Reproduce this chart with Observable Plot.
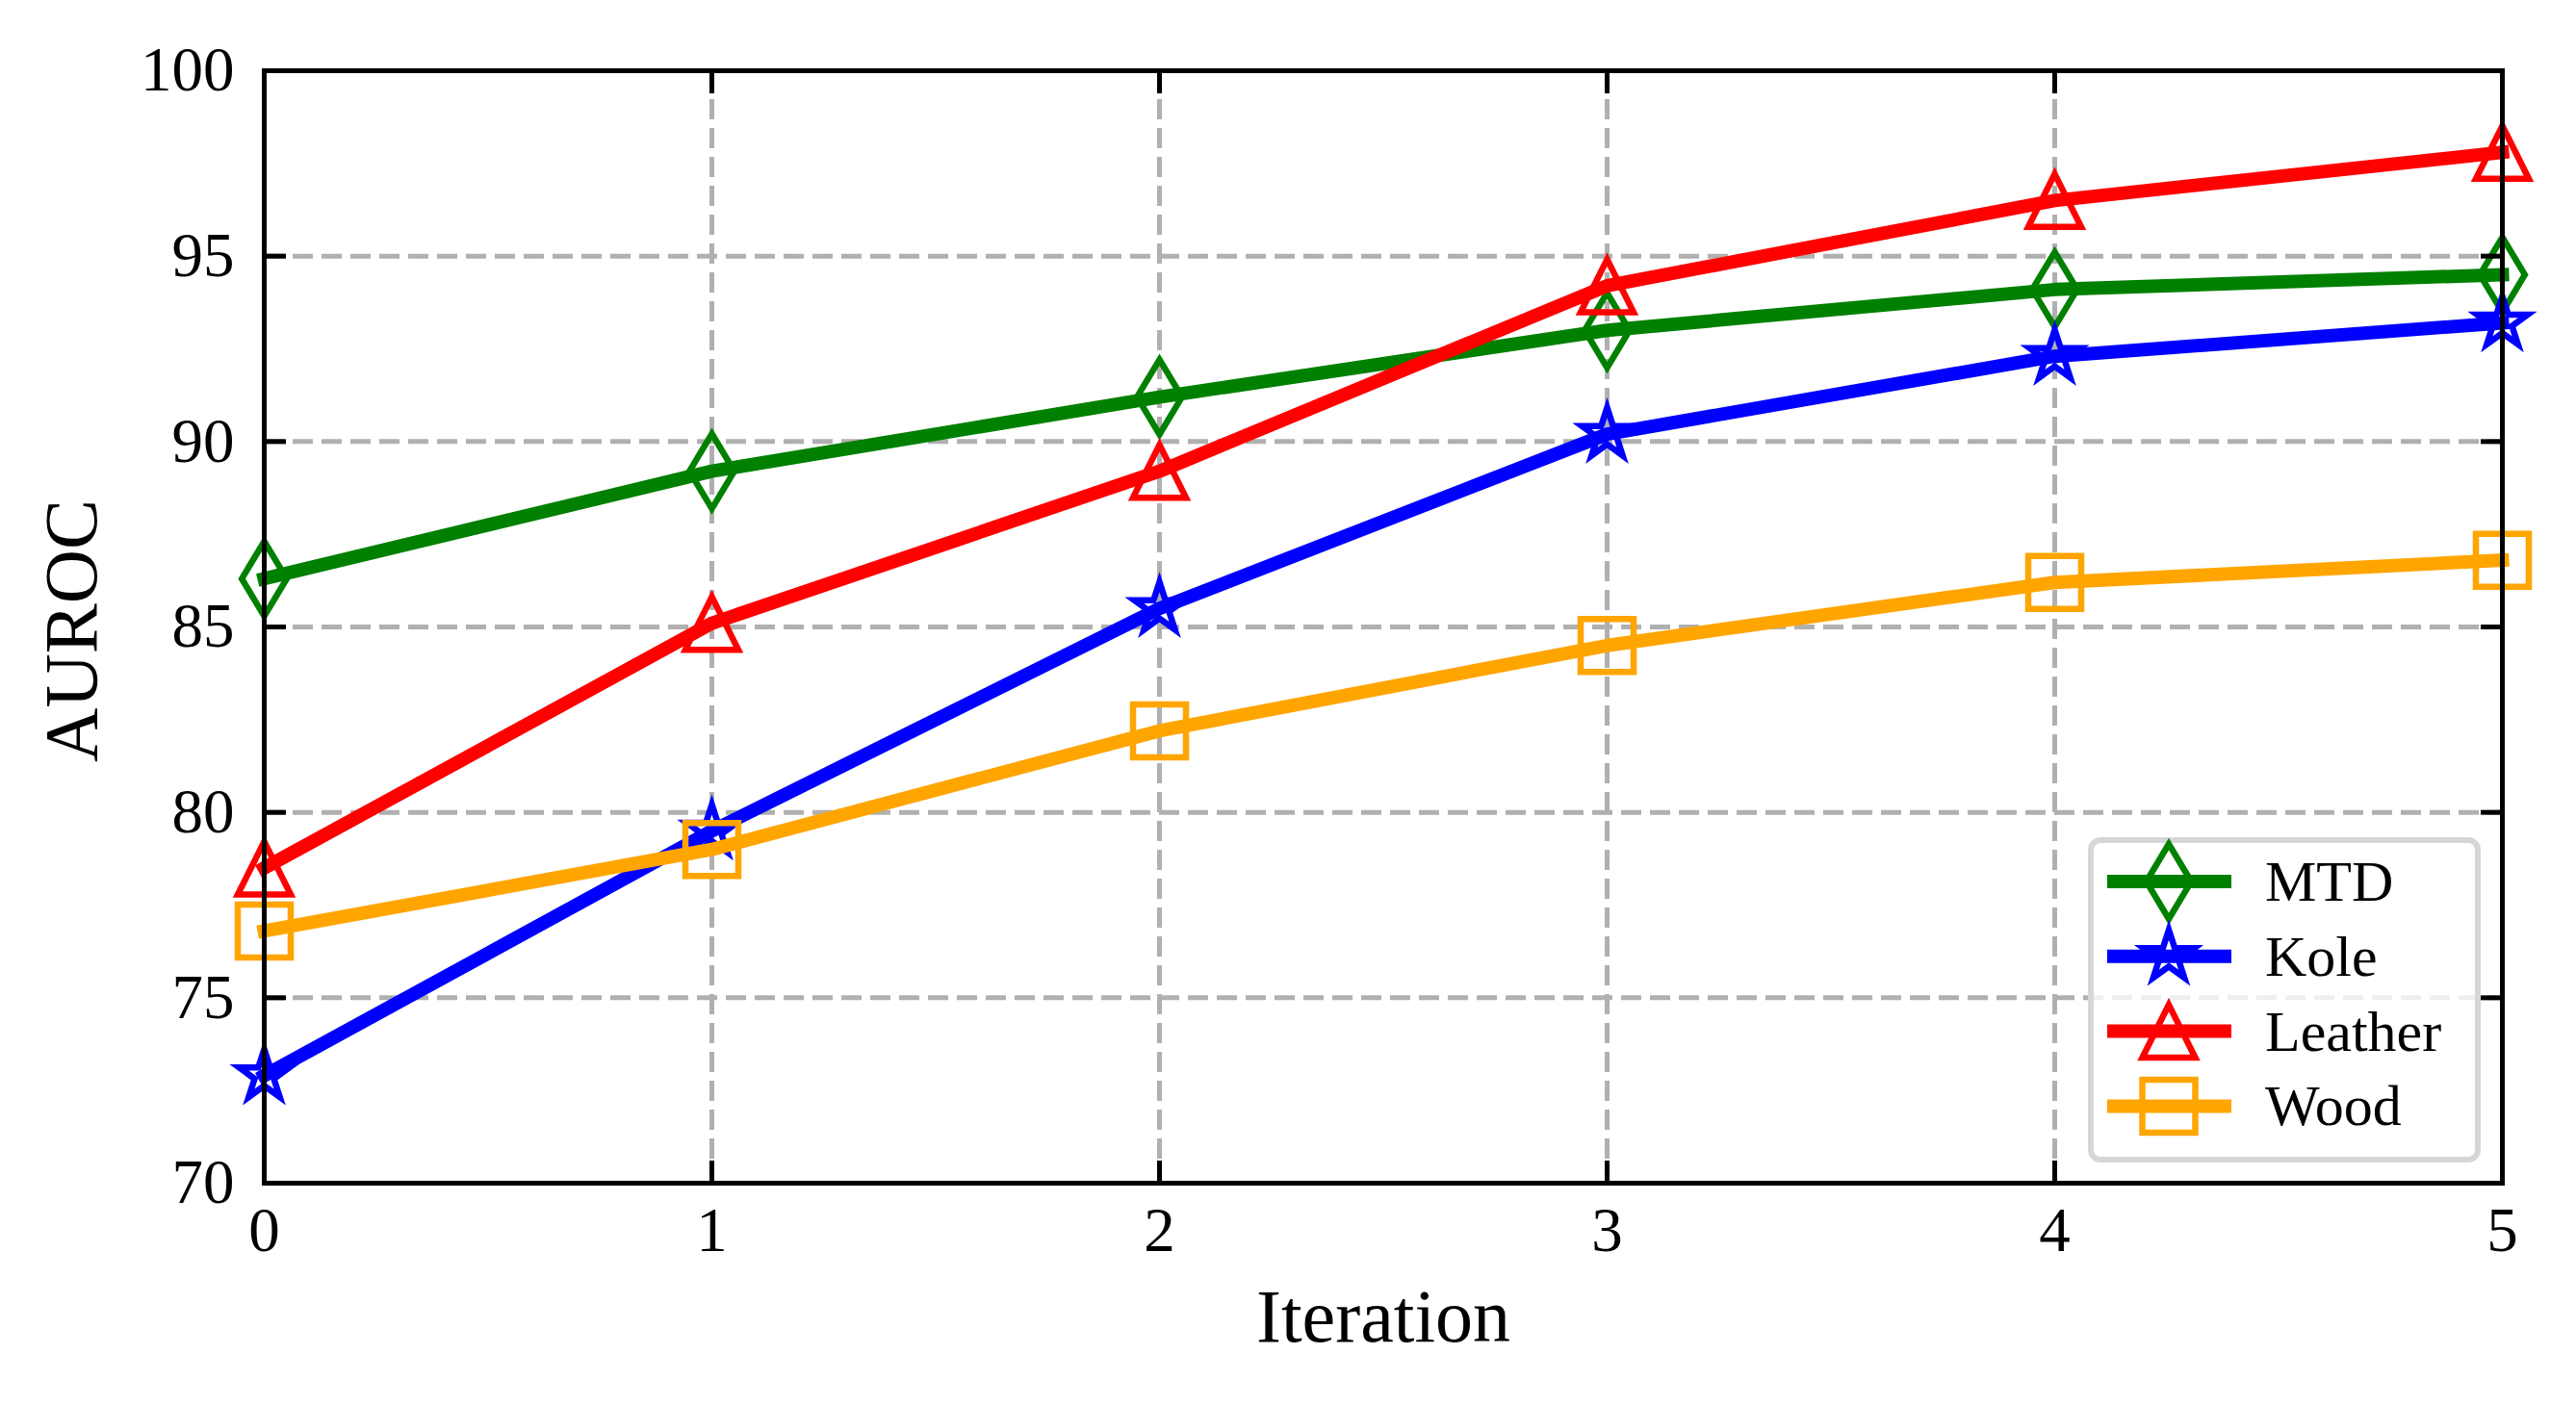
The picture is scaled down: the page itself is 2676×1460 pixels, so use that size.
<!DOCTYPE html>
<html>
<head>
<meta charset="utf-8">
<script src="https://cdn.jsdelivr.net/npm/d3@7"></script>
<script src="https://cdn.jsdelivr.net/npm/@observablehq/plot@0.6"></script>
<style>
  html, body { margin: 0; padding: 0; background: white; overflow: hidden; }
  #chart { position: relative; width: 2676px; height: 1460px; }
</style>
</head>
<body>
<div id="chart"></div>
<script>
// ---- data ----
const iterations = [0, 1, 2, 3, 4, 5];
const seriesNames = ["MTD", "Kole", "Leather", "Wood"];
const seriesColors = ["green", "#0000ff", "#ff0000", "orange"];
const mtdValues = [86.3, 89.2, 91.2, 93.0, 94.1, 94.5];
const koleValues = [72.9, 79.5, 85.5, 90.2, 92.3, 93.2];
const leatherValues = [78.5, 85.1, 89.2, 94.2, 96.5, 97.8];
const woodValues = [76.8, 79.0, 82.2, 84.5, 86.2, 86.8];
const xTicks = [0, 1, 2, 3, 4, 5];
const yTicks = [70, 75, 80, 85, 90, 95, 100];
const xLabel = "Iteration";
const yLabel = "AUROC";

const seriesValues = [mtdValues, koleValues, leatherValues, woodValues];
const rows = seriesNames.flatMap((name, s) =>
  iterations.map((it, i) => ({series: name, iteration: it, value: seriesValues[s][i]})));

// ---- marker shapes (matplotlib-like, r = half marker size) ----
const rad = size => Math.sqrt(size / Math.PI);
const thinDiamond = {draw(c, size) { const r = rad(size) * Math.SQRT2; c.moveTo(0, -r); c.lineTo(0.6 * r, 0); c.lineTo(0, r); c.lineTo(-0.6 * r, 0); c.closePath(); }};
const star5 = {draw(c, size) {
  const R = rad(size), ri = R * 0.381966;
  for (let k = 0; k < 10; k++) {
    const a = -Math.PI / 2 + k * Math.PI / 5, rr = k % 2 ? ri : R;
    const px = rr * Math.cos(a), py = rr * Math.sin(a);
    if (k === 0) c.moveTo(px, py); else c.lineTo(px, py);
  }
  c.closePath();
}};
const triUp = {draw(c, size) { const r = rad(size); c.moveTo(0, -r); c.lineTo(r, r); c.lineTo(-r, r); c.closePath(); }};
const squareSym = {draw(c, size) { const r = rad(size); c.moveTo(-r, -r); c.lineTo(r, -r); c.lineTo(r, r); c.lineTo(-r, r); c.closePath(); }};
const seriesSymbols = [thinDiamond, star5, triUp, squareSym];

const MR = 27.5, MSW = 6.5, LW = 14;

const seriesMarks = seriesNames.flatMap((name, s) => {
  const d = rows.filter(r => r.series === name);
  return [
    Plot.line(d, {x: "iteration", y: "value", stroke: seriesColors[s], strokeWidth: LW, strokeLinejoin: "round", strokeLinecap: "square"}),
    Plot.dot(d, {x: "iteration", y: "value", r: MR, symbol: seriesSymbols[s], stroke: seriesColors[s], fill: "none", strokeWidth: MSW})
  ];
});

const gridStyle = {stroke: "#b0b0b0", strokeWidth: 5, strokeDasharray: "21,9"};

const chart = Plot.plot({
  width: 2676,
  height: 1460,
  marginLeft: 274,
  marginRight: 77,
  marginTop: 73,
  marginBottom: 231,
  x: {domain: [0, 5]},
  y: {domain: [70, 100]},
  style: {fontFamily: "'Liberation Serif', serif", fontSize: "65px", background: "white", color: "black", overflow: "visible"},
  marks: [
    Plot.ruleY(yTicks, {...gridStyle}),
    Plot.ruleX(xTicks, {...gridStyle}),
    ...seriesMarks,
    Plot.frame({stroke: "black", strokeWidth: 5}),
    Plot.axisX({anchor: "bottom", ticks: xTicks, tickSize: -23, tickPadding: 47, strokeWidth: 5, label: null, tickFormat: d => String(d)}),
    Plot.axisX({anchor: "top", ticks: xTicks, tickSize: -23, strokeWidth: 5, fill: "none", label: null}),
    Plot.axisY({anchor: "left", ticks: yTicks, tickSize: -23, tickPadding: 54, strokeWidth: 5, label: null, tickFormat: d => String(d)}),
    Plot.axisY({anchor: "right", ticks: yTicks, tickSize: -23, strokeWidth: 5, fill: "none", label: null}),
    Plot.text([xLabel], {frameAnchor: "bottom", text: d => d, dy: 140, textAnchor: "middle", lineAnchor: "middle", fontSize: 78, fill: "black"}),
    Plot.text([yLabel], {frameAnchor: "left", text: d => d, rotate: -90, dx: -199, dy: 4, textAnchor: "middle", lineAnchor: "middle", fontSize: 78, fill: "black"})
  ]
});

// ---- legend (inside the plot area, lower right) ----
const lg = d3.select(chart).append("g").attr("class", "legend").attr("text-anchor", "start");
const box = {x: 2172, y: 873, w: 402, h: 332};
lg.append("rect").attr("x", box.x).attr("y", box.y).attr("width", box.w).attr("height", box.h)
  .attr("rx", 10).attr("fill", "white").attr("fill-opacity", 0.8)
  .attr("stroke", "#d6d6d6").attr("stroke-width", 6);
const rowY0 = 916, rowStep = 77.8;
seriesNames.forEach((name, s) => {
  const y = rowY0 + s * rowStep;
  lg.append("line").attr("x1", 2189).attr("x2", 2318).attr("y1", y).attr("y2", y)
    .attr("stroke", seriesColors[s]).attr("stroke-width", LW);
  lg.append("path").attr("transform", `translate(2253,${y})`)
    .attr("d", d3.symbol(seriesSymbols[s], Math.PI * MR * MR)())
    .attr("fill", "none").attr("stroke", seriesColors[s]).attr("stroke-width", MSW);
  lg.append("text").attr("x", 2353).attr("y", y + 20)
    .attr("text-anchor", "start")
    .attr("font-size", 60).attr("font-family", "'Liberation Serif', serif").attr("fill", "black")
    .text(name);
});

document.getElementById("chart").appendChild(chart);
</script>
</body>
</html>
